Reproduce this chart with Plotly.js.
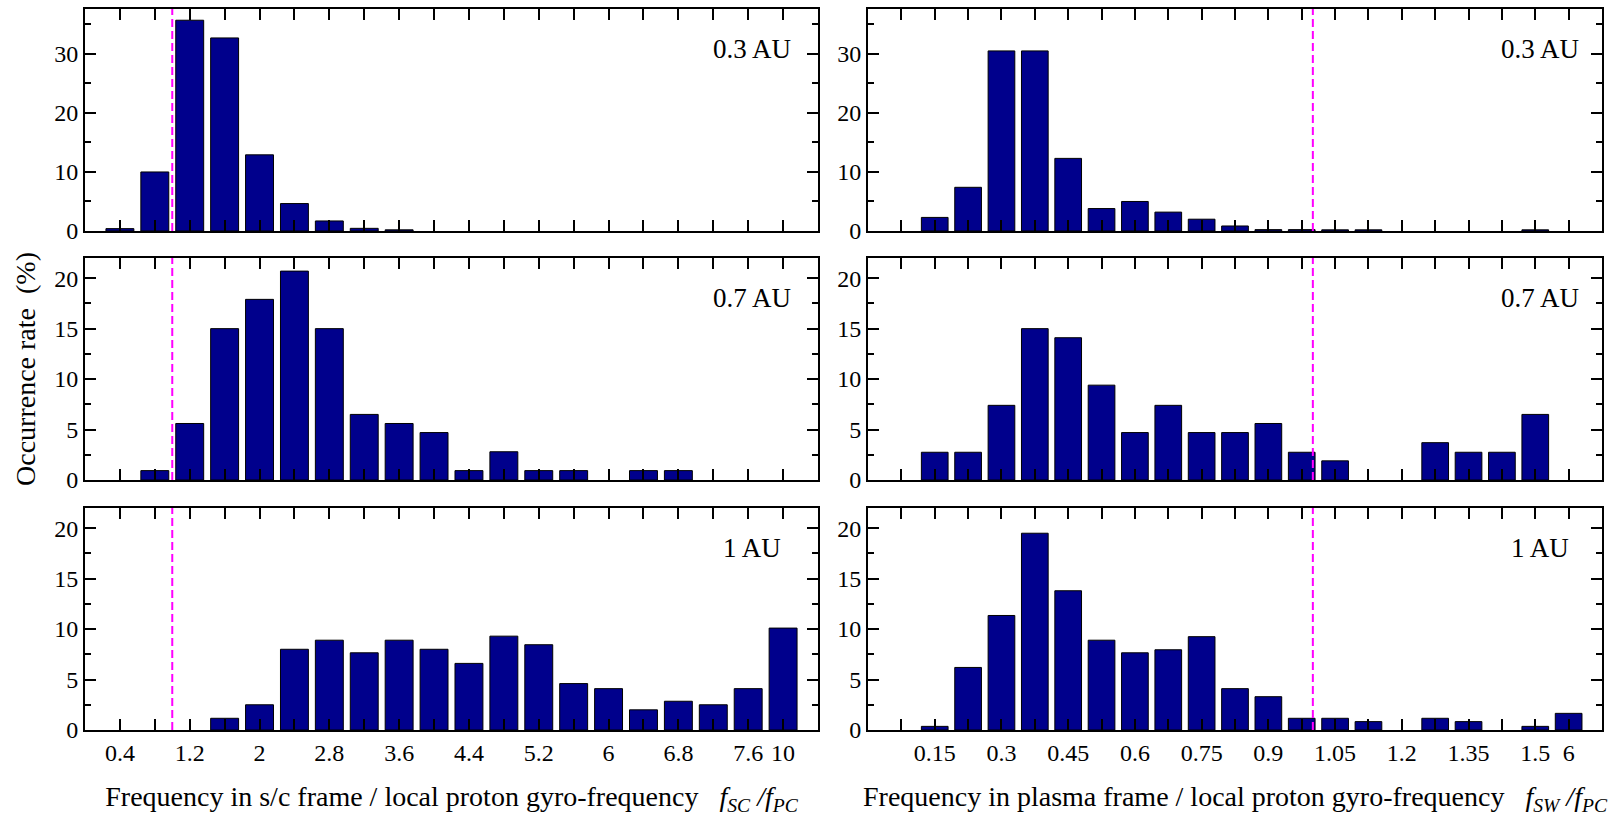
<!DOCTYPE html>
<html>
<head>
<meta charset="utf-8">
<script src="https://cdn.plot.ly/plotly-3.0.1.min.js"></script>
<style>html,body{margin:0;padding:0;background:#fff;}#chart{width:1612px;height:822px;}</style>
</head>
<body>
<div id="chart"></div>
<script>
// ---- Data ----
// s/c frame bins (f_SC / f_PC): bar centres, labelled ticks and their texts, unlabelled ticks
const scBins = [0.4, 0.8, 1.2, 1.6, 2.0, 2.4, 2.8, 3.2, 3.6, 4.0, 4.4, 4.8, 5.2, 5.6, 6.0, 6.4, 6.8, 7.2, 7.6, 8.0];
const scTickVals = [0.4, 1.2, 2.0, 2.8, 3.6, 4.4, 5.2, 6.0, 6.8, 7.6, 8.0];
const scTickText = ["0.4", "1.2", "2", "2.8", "3.6", "4.4", "5.2", "6", "6.8", "7.6", "10"];
const scMinorVals = [0.8, 1.6, 2.4, 3.2, 4.0, 4.8, 5.6, 6.4, 7.2];
const sc03AU = [0.4, 10, 35.7, 32.7, 12.9, 4.65, 1.7, 0.45, 0.2, 0, 0, 0, 0, 0, 0, 0, 0, 0, 0, 0];
const sc07AU = [0, 0.93, 5.6, 15.0, 17.9, 20.7, 15.0, 6.5, 5.6, 4.7, 0.93, 2.8, 0.93, 0.93, 0, 0.93, 0.93, 0, 0, 0];
const sc1AU  = [0, 0, 0, 1.16, 2.5, 8.0, 8.9, 7.65, 8.9, 8.0, 6.6, 9.3, 8.45, 4.6, 4.1, 2.0, 2.85, 2.5, 4.1, 10.1];

// plasma frame bins (f_SW / f_PC)
const swBins = [0.075, 0.15, 0.225, 0.3, 0.375, 0.45, 0.525, 0.6, 0.675, 0.75, 0.825, 0.9, 0.975, 1.05, 1.125, 1.2, 1.275, 1.35, 1.425, 1.5, 1.575];
const swTickVals = [0.15, 0.3, 0.45, 0.6, 0.75, 0.9, 1.05, 1.2, 1.35, 1.5, 1.575];
const swTickText = ["0.15", "0.3", "0.45", "0.6", "0.75", "0.9", "1.05", "1.2", "1.35", "1.5", "6"];
const swMinorVals = [0.075, 0.225, 0.375, 0.525, 0.675, 0.825, 0.975, 1.125, 1.275, 1.425];
const sw03AU = [0, 2.3, 7.4, 30.5, 30.5, 12.3, 3.8, 5.0, 3.2, 2.0, 0.85, 0.23, 0.23, 0.2, 0.2, 0, 0, 0, 0, 0.2, 0];
const sw07AU = [0, 2.75, 2.75, 7.4, 15.0, 14.1, 9.4, 4.7, 7.4, 4.7, 4.7, 5.6, 2.75, 1.9, 0, 0, 3.7, 2.75, 2.75, 6.5, 0];
const sw1AU  = [0, 0.36, 6.2, 11.35, 19.5, 13.8, 8.9, 7.65, 7.95, 9.25, 4.1, 3.3, 1.16, 1.16, 0.83, 0, 1.16, 0.83, 0, 0.36, 1.65];

const distLabels = ["0.3 AU", "0.7 AU", "1 AU"];
const gyroLine = 1.0;   // f / f_PC = 1

// ---- Styling ----
const FONT = "'Liberation Serif', 'Times New Roman', Times, serif";
const BAR = "#00008C";

function bar(x, y, ax) {
  return {type: "bar", x: x, y: y, xaxis: "x" + ax, yaxis: "y" + ax,
    marker: {color: BAR, line: {color: "#000", width: y.map(function (v) { return v > 0 ? 1 : 0; })}},
    hoverinfo: "x+y", showlegend: false};
}

const data = [
  bar(scBins, sc03AU, ""), bar(swBins, sw03AU, "2"),
  bar(scBins, sc07AU, "3"), bar(swBins, sw07AU, "4"),
  bar(scBins, sc1AU, "5"), bar(swBins, sw1AU, "6")
];

const W = 1612, H = 822;
const leftDom = [85 / W, 818 / W], rightDom = [868 / W, 1602 / W];
const rowDom = [[1 - 231 / H, 1 - 9 / H], [1 - 480 / H, 1 - 258 / H], [1 - 730 / H, 1 - 508 / H]];

function xax(dom, anchor, vals, text, minorVals, range, labels) {
  return {domain: dom, anchor: anchor, range: range, tickmode: "array", tickvals: vals, ticktext: text,
    showticklabels: labels, ticks: "inside", ticklen: 11, tickwidth: 2, tickcolor: "#000",
    minor: {tickmode: "array", tickvals: minorVals, ticks: "inside", ticklen: 11, tickwidth: 2, tickcolor: "#000", showgrid: false},
    showline: true, linewidth: 2, linecolor: "#000", mirror: "allticks", showgrid: false, zeroline: false,
    tickfont: {family: FONT, size: 24, color: "#000"}, fixedrange: true};
}
function yax(dom, anchor, range, dtick, minor) {
  return {domain: dom, anchor: anchor, range: range, dtick: dtick, tick0: 0,
    ticks: "inside", ticklen: 11, tickwidth: 2, tickcolor: "#000",
    minor: {dtick: minor, tick0: 0, ticks: "inside", ticklen: 6, tickwidth: 2, tickcolor: "#000", showgrid: false},
    showline: true, linewidth: 2, linecolor: "#000", mirror: "allticks", showgrid: false, zeroline: false,
    tickfont: {family: FONT, size: 24, color: "#000"}, fixedrange: true};
}

const scRange = [0, 8.4], swRange = [0, 1.65];
const titleFont = {family: FONT, size: 28, color: "#000"};

const layout = {
  width: W, height: H, margin: {l: 0, r: 0, t: 0, b: 0},
  paper_bgcolor: "#fff", plot_bgcolor: "#fff", bargap: 0.2, showlegend: false,
  font: {family: FONT, color: "#000"},
  xaxis:  xax(leftDom,  "y",  scTickVals, scTickText, scMinorVals, scRange, false),
  xaxis2: xax(rightDom, "y2", swTickVals, swTickText, swMinorVals, swRange, false),
  xaxis3: xax(leftDom,  "y3", scTickVals, scTickText, scMinorVals, scRange, false),
  xaxis4: xax(rightDom, "y4", swTickVals, swTickText, swMinorVals, swRange, false),
  xaxis5: Object.assign(xax(leftDom, "y5", scTickVals, scTickText, scMinorVals, scRange, true),
    {title: {text: "Frequency in s/c frame / local proton gyro-frequency&nbsp;&nbsp;&nbsp;<i>f</i><sub><i>SC</i></sub><i> /f</i><sub><i>PC</i></sub>", font: titleFont, standoff: 22}}),
  xaxis6: Object.assign(xax(rightDom, "y6", swTickVals, swTickText, swMinorVals, swRange, true),
    {title: {text: "Frequency in plasma frame / local proton gyro-frequency&nbsp;&nbsp;&nbsp;<i>f</i><sub><i>SW</i></sub><i> /f</i><sub><i>PC</i></sub>", font: titleFont, standoff: 22}}),
  yaxis:  yax(rowDom[0], "x",  [0, 37.6], 10, 5),
  yaxis2: yax(rowDom[0], "x2", [0, 37.6], 10, 5),
  yaxis3: Object.assign(yax(rowDom[1], "x3", [0, 22], 5, 2.5),
    {title: {text: "Occurrence rate&nbsp;&nbsp;(%)", font: titleFont, standoff: 10}}),
  yaxis4: yax(rowDom[1], "x4", [0, 22], 5, 2.5),
  yaxis5: yax(rowDom[2], "x5", [0, 22], 5, 2.5),
  yaxis6: yax(rowDom[2], "x6", [0, 22], 5, 2.5),
  shapes: [], annotations: []
};

const axIds = [["", "2"], ["3", "4"], ["5", "6"]];
axIds.forEach(function (row, r) {
  row.forEach(function (id, c) {
    layout.shapes.push({type: "line", xref: "x" + id, yref: "y" + id + " domain",
      x0: gyroLine, x1: gyroLine, y0: 0, y1: 1, layer: "above",
      line: {color: "#FF00FF", width: 2, dash: "8px,4px"}});
    layout.annotations.push({xref: "x" + id + " domain", yref: "y" + id + " domain",
      x: c === 0 ? 0.91 : 0.915, y: 0.82, xanchor: "center", yanchor: "middle",
      text: distLabels[r], showarrow: false, font: {family: FONT, size: 27, color: "#000"}});
  });
});

Plotly.newPlot("chart", data, layout, {displayModeBar: false, staticPlot: true});
</script>
</body>
</html>
